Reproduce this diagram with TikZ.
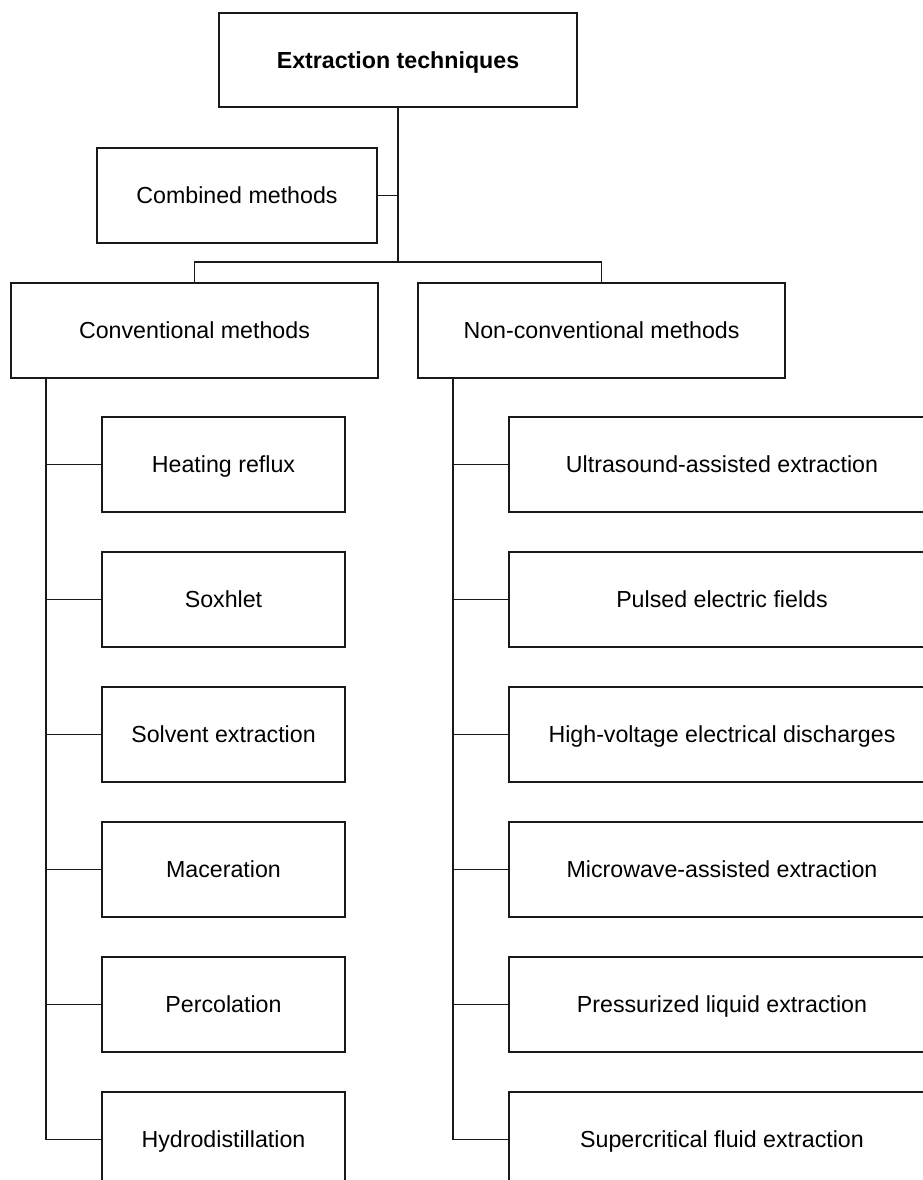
\documentclass[tikz,border=0pt]{standalone}
\usepackage{fontspec}
\setmainfont{Liberation Sans}
\begin{document}
\begin{tikzpicture}[x=0.75pt,y=-0.75pt,
  box/.style={draw=black!90,line width=1.3pt,minimum height=71.25pt,inner sep=0pt,text height=12.5pt,text depth=0pt,font=\fontsize{17.4pt}{20pt}\selectfont,text=black},
  wire/.style={draw=black!90,line width=1.3pt}]
\useasboundingbox (0,0) rectangle (923,1180);
\clip (0,0) rectangle (923,1180);
\node[box,minimum width=268.5pt,minimum height=70.5pt,font=\fontsize{17.4pt}{20pt}\selectfont\bfseries] (top) at (398,60) {Extraction techniques};
\node[box,minimum width=210pt] (comb) at (237,195.5) {Combined methods};
\node[box,minimum width=275.25pt] (conv) at (194.5,330.5) {Conventional methods};
\node[box,minimum width=275.25pt] (ncon) at (601.5,330.5) {Non-conventional methods};
\coordinate (bus) at (398,262);
\draw[wire] (top.south) -- (bus);
\draw[wire] (comb.east) -- (comb.east -| top.south);
\draw[wire] (conv.north) |- (bus) -| (ncon.north);
% left children
\foreach \n/\t [count=\i] in {l1/Heating reflux,l2/Soxhlet,l3/Solvent extraction,l4/Maceration,l5/Percolation,l6/Hydrodistillation}{
  \node[box,minimum width=182.25pt] (\n) at (223.5,{464.5+135*(\i-1)}) {\t};
}
\foreach \n/\t [count=\i] in {r1/Ultrasound-assisted extraction,r2/Pulsed electric fields,r3/High-voltage electrical discharges,r4/Microwave-assisted extraction,r5/Pressurized liquid extraction,r6/Supercritical fluid extraction}{
  \node[box,minimum width=319.5pt] (\n) at (722,{464.5+135*(\i-1)}) {\t};
}
\coordinate (ls) at ([xshift=27pt]conv.south west);
\coordinate (rs) at ([xshift=27pt]ncon.south west);
\draw[wire] (ls) |- (l6.west);
\draw[wire] (rs) |- (r6.west);
\foreach \n in {l1,l2,l3,l4,l5}{\draw[wire] (\n.west) -- (\n.west -| ls);}
\foreach \n in {r1,r2,r3,r4,r5}{\draw[wire] (\n.west) -- (\n.west -| rs);}
\end{tikzpicture}
\end{document}
